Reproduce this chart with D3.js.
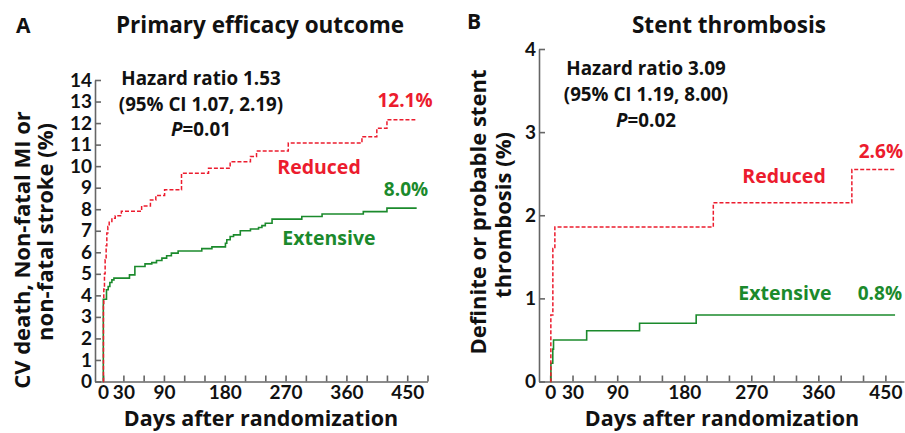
<html>
  <head>
    <meta charset="UTF-8">
    <style>
      body { margin: 0; background: #fff; }
      svg text { font-family: 'Open Sans', Lato, sans-serif; font-weight: 700; }
      .axis path, .axis line { stroke: #666; stroke-width: 1.6; }
      .axis text { fill: #111; font-size: 19px; font-family: Lato, sans-serif; font-weight: 700; }
    </style>
  </head>
  <body>
    <script src="https://d3js.org/d3.v7.min.js"></script>
    <svg id="chart" width="905" height="433"></svg>
    <script>
      /* panel A: primary efficacy outcome, [day, %] */
      var reducedA = [[0, 0], [0.5, 3.5], [1, 4.3], [2, 5.0], [3, 5.65], [4.5, 6.3], [5.5, 6.9], [7, 7.2],
        [9, 7.43], [13, 7.58], [18, 7.7], [27, 7.9], [57, 8.15], [70, 8.43], [78, 8.64], [91, 8.9],
        [116, 9.67], [156, 9.9], [188, 10.2], [218, 10.45], [227, 10.7], [274, 11.07], [383, 11.37],
        [405, 11.76], [420, 12.15], [462, 12.15]];
      var extensiveA = [[0, 0], [0.3, 3.82], [5, 4.26], [7.5, 4.41], [10, 4.6], [13, 4.72], [16, 4.8],
        [39, 4.95], [47, 5.34], [62, 5.46], [72, 5.52], [79, 5.62], [87, 5.73], [94, 5.84], [101, 5.96],
        [111, 6.06], [146, 6.17], [161, 6.25], [181, 6.42], [183, 6.58], [188, 6.73], [193, 6.81],
        [203, 7.0], [218, 7.08], [230, 7.15], [235, 7.24], [240, 7.35], [250, 7.54], [294, 7.66],
        [324, 7.78], [385, 7.89], [420, 8.05], [464, 8.05]];

      /* panel B: stent thrombosis, [day, %] */
      var reducedB = [[0, 0], [0.9, 0.8], [3.6, 1.6], [6.3, 1.86], [219, 2.15], [405, 2.55], [463, 2.55]];
      var extensiveB = [[0, 0], [1, 0.22], [3.5, 0.39], [4.5, 0.5], [49, 0.61], [120, 0.70], [196, 0.8], [463, 0.8]];

      var dayTicks = d3.range(0, 481, 30);
      var dayLabels = [0, 30, 90, 180, 270, 360, 450];
      var yTicksA = d3.range(0, 15);
      var yTicksB = [0, 1, 2, 3, 4];

      var RED = "#ec1c2e", GREEN = "#1b8a2c";

      var svg = d3.select("#chart");

      function drawPanel(p) {
        var x = d3.scaleLinear().domain(p.xDomain).range(p.xRange),
            y = d3.scaleLinear().domain(p.yDomain).range(p.yRange);

        svg.append("g")
          .attr("class", "axis")
          .attr("transform", "translate(0," + p.yRange[0] + ")")
          .call(d3.axisBottom(x).tickValues(dayTicks).tickSizeInner(-6).tickSizeOuter(0).tickPadding(4)
            .tickFormat(function(d) { return dayLabels.indexOf(d) >= 0 ? d : ""; }));

        svg.append("g")
          .attr("class", "axis")
          .attr("transform", "translate(" + p.xRange[0] + ",0)")
          .call(d3.axisLeft(y).tickValues(p.yTicks).tickSizeInner(-6).tickSizeOuter(0).tickPadding(3)
            .tickFormat(d3.format("d")));

        var line = d3.line()
          .curve(d3.curveStepAfter)
          .x(function(d) { return x(d[0]); })
          .y(function(d) { return y(d[1]); });

        svg.append("path")
          .datum(p.extensive)
          .attr("fill", "none")
          .attr("stroke", GREEN)
          .attr("stroke-width", 1.6)
          .attr("d", line);
        svg.append("path")
          .datum(p.reduced)
          .attr("fill", "none")
          .attr("stroke", RED)
          .attr("stroke-width", 1.5)
          .attr("stroke-dasharray", "4,2")
          .attr("d", line);
      }

      drawPanel({xDomain: [-12, 480], xRange: [95, 427.5], yDomain: [0, 14], yRange: [381.5, 80],
        yTicks: yTicksA, reduced: reducedA, extensive: extensiveA});
      drawPanel({xDomain: [-15, 475], xRange: [539, 904], yDomain: [0, 4], yRange: [381.5, 49],
        yTicks: yTicksB, reduced: reducedB, extensive: extensiveB});

      function label(x, y, txt, size, color, anchor) {
        return svg.append("text")
          .attr("x", x)
          .attr("y", y)
          .attr("text-anchor", anchor || "middle")
          .style("font-size", size + "px")
          .style("fill", color || "#111")
          .text(txt);
      }

      /* titles */
      label(16, 33, "A", 21, "#111", "start");
      label(260, 33, "Primary efficacy outcome", 22.5);
      label(467, 29, "B", 21, "#111", "start");
      label(729, 33, "Stent thrombosis", 22.5);

      /* x titles */
      label(261, 426, "Days after randomization", 21.5);
      label(722, 426, "Days after randomization", 21.5);

      /* y titles */
      function ytitle(x, y, txt) {
        svg.append("text")
          .attr("transform", "translate(" + x + "," + y + ") rotate(-90)")
          .attr("text-anchor", "middle")
          .style("font-size", "22px")
          .style("fill", "#111")
          .text(txt);
      }
      ytitle(30, 250, "CV death, Non-fatal MI or");
      ytitle(53, 232, "non-fatal stroke (%)");
      ytitle(486, 212, "Definite or probable stent");
      ytitle(511, 215, "thrombosis (%)");

      /* hazard ratio notes, one text block each */
      function note(x, y, hr, ci, pval, gap) {
        var t = svg.append("text")
          .attr("x", x)
          .attr("y", y)
          .attr("text-anchor", "middle")
          .style("font-size", "18.8px")
          .style("fill", "#111");
        t.append("tspan").attr("x", x).text(hr);
        t.append("tspan").attr("x", x).attr("dy", gap[0]).text(ci);
        t.append("tspan").attr("x", x).attr("dy", gap[1]).style("font-style", "italic").text("P");
        t.append("tspan").text("=" + pval);
      }
      note(201, 85, "Hazard ratio 1.53", "(95% CI 1.07, 2.19)", "0.01", [25.5, 25.5]);
      note(646, 75, "Hazard ratio 3.09", "(95% CI 1.19, 8.00)", "0.02", [26, 25.5]);

      /* series labels */
      label(405, 107, "12.1%", 19, RED);
      label(319, 174, "Reduced", 19.5, RED);
      label(406, 196, "8.0%", 19, GREEN);
      label(329, 245, "Extensive", 19.5, GREEN);

      label(903, 158, "2.6%", 19, RED, "end");
      label(784, 183, "Reduced", 19.5, RED);
      label(785, 300, "Extensive", 19.5, GREEN);
      label(902, 300, "0.8%", 19, GREEN, "end");
    </script>
  </body>
</html>
